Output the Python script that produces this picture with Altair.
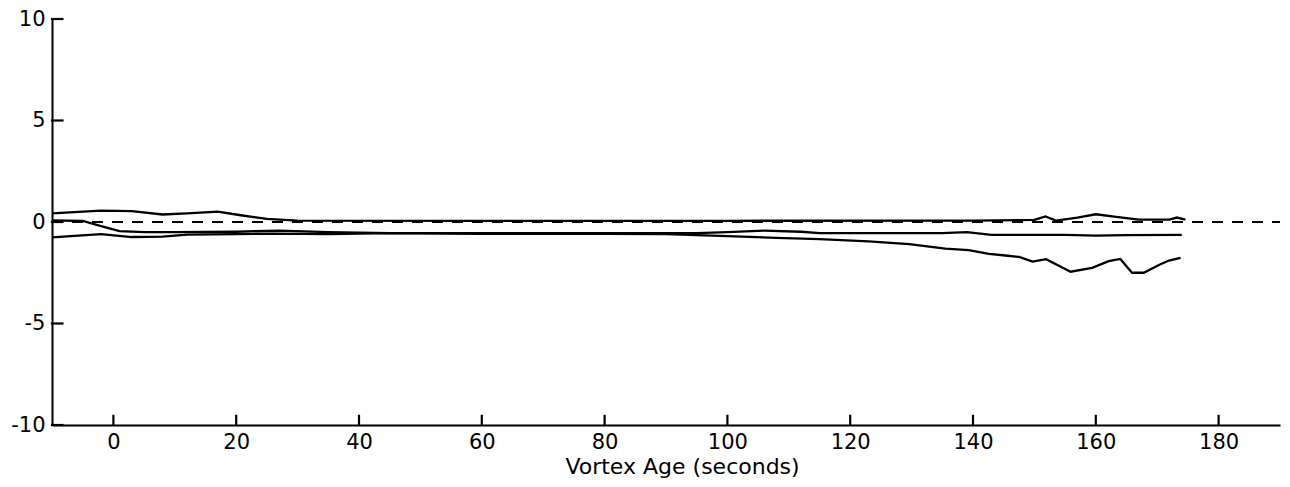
import altair as alt
import pandas as pd

# Line A (upper curve)
a_x = [-10, -2, 3, 8, 12, 17, 21, 25, 30, 60, 100, 140, 150, 151.8, 153.5, 157, 160, 163, 165, 167, 172, 173.2, 174.6]
a_y = [0.42, 0.56, 0.54, 0.37, 0.42, 0.51, 0.32, 0.15, 0.07, 0.06, 0.06, 0.07, 0.10, 0.27, 0.07, 0.22, 0.38, 0.27, 0.19, 0.12, 0.12, 0.22, 0.12]

# Line B (middle curve)
b_x = [-10, -5, -2, 1, 5, 10, 20, 27, 35, 45, 60, 80, 95, 100, 106, 112, 115, 125, 135, 139, 143, 155, 160, 165, 174]
b_y = [0.08, 0.05, -0.2, -0.45, -0.5, -0.5, -0.48, -0.42, -0.5, -0.55, -0.55, -0.55, -0.55, -0.5, -0.42, -0.48, -0.55, -0.55, -0.55, -0.5, -0.63, -0.63, -0.67, -0.65, -0.63]

# Line C (lower curve)
c_x = [-10, -2, 3, 8, 12, 20, 26, 35, 45, 60, 80, 90, 100, 108, 115, 123, 129.6, 135.5, 139.3, 142.6, 145.3, 147.5, 149.7, 151.9, 155.9, 159.4, 162.1, 164, 165.9, 167.8, 170.2, 171.9, 173.8]
c_y = [-0.76, -0.6, -0.74, -0.72, -0.62, -0.6, -0.57, -0.6, -0.55, -0.58, -0.58, -0.6, -0.7, -0.78, -0.84, -0.95, -1.09, -1.31, -1.39, -1.57, -1.65, -1.72, -1.95, -1.83, -2.45, -2.26, -1.93, -1.82, -2.5, -2.5, -2.13, -1.9, -1.77]

# Dashed reference line
ref_x = [-10, 190]
ref_y = [0, 0]

x_ticks = [0, 20, 40, 60, 80, 100, 120, 140, 160, 180]
y_ticks = [-10, -5, 0, 5, 10]

X_MIN, X_MAX = -10, 190
Y_MIN, Y_MAX = -10, 10
XTICK_LEN = 0.45   # in y data units
YTICK_LEN = 1.7    # in x data units

rows = []
for name, xs, ys in (("A", a_x, a_y), ("B", b_x, b_y), ("C", c_x, c_y)):
    for i, (xv, yv) in enumerate(zip(xs, ys)):
        rows.append({"series": name, "x": xv, "y": yv, "order": i})
lines_df = pd.DataFrame(rows)
ref_df = pd.DataFrame({"x": ref_x, "y": ref_y})

tick_rows = []
for t in x_ticks:
    tick_rows.append({"id": f"tx{t}", "x": t, "y": Y_MIN, "o": 0})
    tick_rows.append({"id": f"tx{t}", "x": t, "y": Y_MIN + XTICK_LEN, "o": 1})
for t in y_ticks:
    tick_rows.append({"id": f"ty{t}", "x": X_MIN, "y": t, "o": 0})
    tick_rows.append({"id": f"ty{t}", "x": X_MIN + YTICK_LEN, "y": t, "o": 1})
ticks_df = pd.DataFrame(tick_rows)

FONT = "DejaVu Sans"
xscale = alt.Scale(domain=[X_MIN, X_MAX], nice=False, zero=False)
yscale = alt.Scale(domain=[Y_MIN, Y_MAX], nice=False, zero=False)

xaxis = alt.Axis(values=x_ticks, ticks=False, grid=False, domainColor="black", domainWidth=2,
                 labelFont=FONT, labelFontSize=21, labelColor="black", labelPadding=6,
                 labelExpr="'' + datum.value",
                 title="Vortex Age (seconds)", titleFont=FONT, titleFontSize=22,
                 titleFontWeight="normal", titleColor="black", titlePadding=4, titleX=630)
yaxis = alt.Axis(values=y_ticks, ticks=False, grid=False, domainColor="black", domainWidth=2,
                 labelFont=FONT, labelFontSize=21, labelColor="black", labelPadding=7,
                 labelExpr="'' + datum.value",
                 title=None)

lines = alt.Chart(lines_df).mark_line(color="black", strokeWidth=2.3).encode(
    x=alt.X("x:Q", scale=xscale, axis=xaxis),
    y=alt.Y("y:Q", scale=yscale, axis=yaxis),
    detail="series:N",
    order="order:Q",
)

ref = alt.Chart(ref_df).mark_line(color="black", strokeWidth=2, strokeDash=[11, 9]).encode(
    x=alt.X("x:Q", scale=xscale),
    y=alt.Y("y:Q", scale=yscale),
)

ticks = alt.Chart(ticks_df).mark_line(color="black", strokeWidth=2.2, strokeCap="square").encode(
    x=alt.X("x:Q", scale=xscale),
    y=alt.Y("y:Q", scale=yscale),
    detail="id:N",
    order="o:Q",
)

chart = alt.layer(lines, ref, ticks).properties(
    width=1228,
    height=406,
    autosize=alt.AutoSizeParams(type="none"),
    padding={"left": 44, "top": 11, "right": 2, "bottom": 62},
    background="white",
).configure_view(stroke=None)

chart.save("out.html", embed_options={"renderer": "svg", "actions": False})
